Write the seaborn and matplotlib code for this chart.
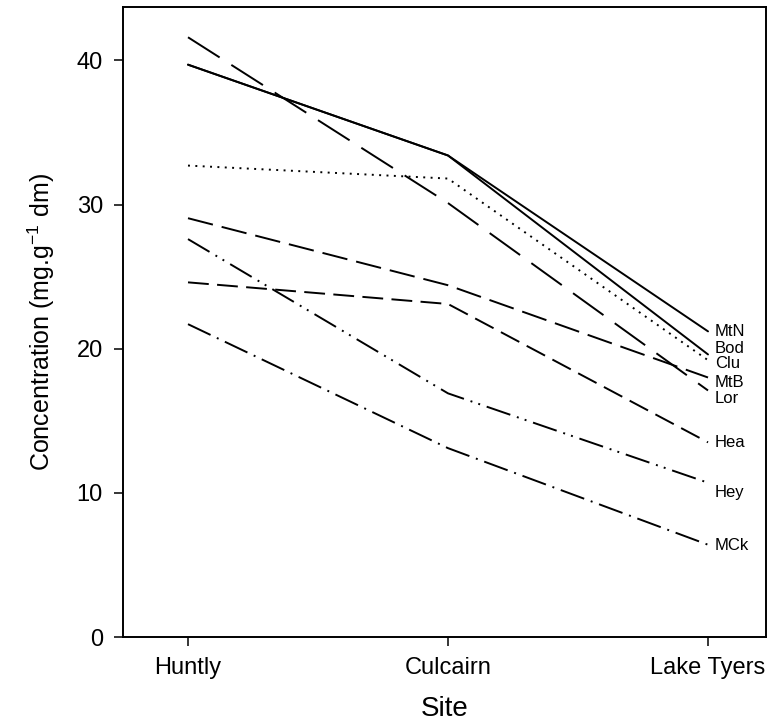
import matplotlib
matplotlib.use("Agg")
import matplotlib.pyplot as plt
import numpy as np
import pandas as pd
import seaborn as sns

# ---- data ----
sites = ["Huntly", "Culcairn", "Lake Tyers"]
series_names = ["MtN", "Bod", "Clu", "MtB", "Lor", "Hea", "Hey", "MCk"]
MtN = [39.7, 33.4, 21.2]
Bod = [39.7, 33.4, 19.6]
Clu = [32.7, 31.8, 19.2]
MtB = [29.05, 24.4, 18.0]
Lor = [41.6, 30.1, 17.1]
Hea = [24.6, 23.1, 13.5]
Hey = [27.6, 16.9, 10.7]
MCk = [21.7, 13.1, 6.4]
yticks = [0, 10, 20, 30, 40]

values = {"MtN": MtN, "Bod": Bod, "Clu": Clu, "MtB": MtB,
          "Lor": Lor, "Hea": Hea, "Hey": Hey, "MCk": MCk}

# ---- styles ----
dash_map = {
    "MtN": "",
    "Bod": "",
    "Clu": (1.4, 3.9),
    "MtB": (18.5, 6.5),
    "Lor": (27, 10),
    "Hea": (15, 6),
    "Hey": (18, 5, 1.4, 4.5, 1.4, 5),
    "MCk": (18, 5, 1.4, 5),
}
label_offsets = {"MtN": 0, "Bod": 4, "Clu": -2.7, "MtB": -3.9,
                 "Lor": -6, "Hea": 0, "Hey": -7.3, "MCk": -0.9}

sns.set_theme(style="white")
plt.rcParams["font.family"] = ["Liberation Sans", "DejaVu Sans"]
plt.rcParams["mathtext.default"] = "regular"
plt.rcParams["lines.scale_dashes"] = False

rows = []
for name in series_names:
    for s, v in zip(sites, values[name]):
        rows.append({"Site": s, "value": v, "series": name})
df = pd.DataFrame(rows)

fig = plt.figure(figsize=(7.74, 7.25), dpi=100)
ax = fig.add_axes([123 / 774, 1 - 637 / 725, (766 - 123) / 774, (637 - 7) / 725])

sns.lineplot(data=df, x="Site", y="value", hue="series", style="series",
             palette={n: "black" for n in series_names}, dashes=dash_map,
             sort=False, legend=False, linewidth=1.4, ax=ax)

for name in series_names:
    ax.annotate(name, xy=(2, values[name][-1]), xytext=(5, label_offsets[name]),
                textcoords="offset points", ha="left", va="center",
                fontsize=12, color="black")

ax.set_xlim(-0.25, 2.223)
ax.set_ylim(0, 43.7)
ax.set_yticks(yticks)
ax.set_xticks(range(len(sites)))
ax.set_xticklabels(sites)
ax.tick_params(axis="both", direction="out", length=6.5, width=1.1,
               labelsize=17, colors="black", bottom=True, left=True)
ax.tick_params(axis="y", pad=8)
ax.tick_params(axis="x", pad=8)
for sp in ax.spines.values():
    sp.set_color("black")
    sp.set_linewidth(1.4)

ax.set_xlabel("Site", fontsize=20, labelpad=12, color="black")
ax.set_ylabel(r"Concentration (mg.g$^{-1}$ dm)", fontsize=18, labelpad=14, color="black")

fig.savefig("out.png", dpi=100)
